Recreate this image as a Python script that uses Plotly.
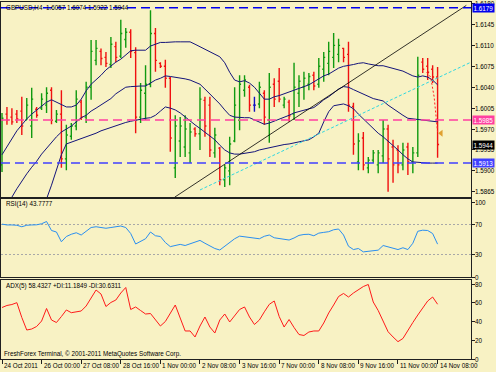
import plotly.graph_objects as go

W, H = 496, 372

# ---------------- data ----------------
date_labels = ["24 Oct 2011", "26 Oct 00:00", "27 Oct 08:00", "28 Oct 16:00", "1 Nov 00:00",
               "2 Nov 08:00", "3 Nov 16:00", "7 Nov 00:00", "8 Nov 08:00", "9 Nov 16:00",
               "11 Nov 00:00", "14 Nov 08:00"]
label_bars = [0, 8, 16, 24, 32, 40, 48, 56, 64, 72, 80, 88]

opens = [1.5910, 1.5995, 1.5990, 1.5995, 1.6000, 1.5985, 1.5975, 1.6003, 1.6005, 1.6010,
         1.6035, 1.5983, 1.5995, 1.5920, 1.5958, 1.5975, 1.6015, 1.5990, 1.6040, 1.6085,
         1.6100, 1.6090, 1.6078, 1.6108, 1.6092, 1.6120, 1.6132, 1.6098, 1.5990, 1.6030,
         1.6045, 1.6130, 1.6080, 1.6075, 1.6055, 1.5905, 1.5950, 1.5940, 1.5930, 1.5970,
         1.5962, 1.6018, 1.6010, 1.5930, 1.5938, 1.5885, 1.5900, 1.5950, 1.5985, 1.6035,
         1.6040, 1.6010, 1.6012, 1.6030, 1.5985, 1.6045, 1.6050, 1.6010, 1.6015, 1.5995,
         1.6030, 1.6040, 1.6045, 1.6060, 1.6045, 1.6070, 1.6080, 1.6090, 1.6095, 1.6105,
         1.6095, 1.6008, 1.5915, 1.5955, 1.5905, 1.5918, 1.5910, 1.5925, 1.5970, 1.5940,
         1.5935, 1.5910, 1.5940, 1.5915, 1.5930, 1.6082, 1.6075, 1.6070, 1.6057]
highs = [1.5997, 1.6007, 1.6005, 1.6002, 1.6024, 1.6022, 1.6039, 1.6007, 1.6030, 1.6040,
         1.6040, 1.6002, 1.6035, 1.5977, 1.5980, 1.6035, 1.6019, 1.6049, 1.6119, 1.6119,
         1.6105, 1.6099, 1.6124, 1.6116, 1.6153, 1.6139, 1.6137, 1.6107, 1.6047, 1.6077,
         1.6169, 1.6139, 1.6082, 1.6086, 1.6057, 1.5993, 1.5990, 1.5993, 1.5980, 1.5973,
         1.6040, 1.6024, 1.6024, 1.5972, 1.5940, 1.5910, 1.5957, 1.6040, 1.6060, 1.6060,
         1.6044, 1.6024, 1.6049, 1.6035, 1.6064, 1.6055, 1.6072, 1.6024, 1.6019, 1.6081,
         1.6060, 1.6066, 1.6064, 1.6066, 1.6089, 1.6099, 1.6116, 1.6131, 1.6121, 1.6106,
         1.6116, 1.6014, 1.5963, 1.5965, 1.5923, 1.5935, 1.5935, 1.5985, 1.5977, 1.5952,
         1.5943, 1.5947, 1.5947, 1.5940, 1.6091, 1.6089, 1.6089, 1.6077, 1.6074]
lows = [1.5898, 1.5977, 1.5977, 1.5980, 1.5960, 1.5985, 1.5955, 1.5989, 1.6002, 1.5997,
        1.5978, 1.5980, 1.5905, 1.5901, 1.5952, 1.5968, 1.5985, 1.5980, 1.6019, 1.6077,
        1.6077, 1.6074, 1.6072, 1.6082, 1.6089, 1.6106, 1.6089, 1.5963, 1.5980, 1.5985,
        1.6040, 1.6066, 1.6072, 1.6039, 1.5932, 1.5888, 1.5923, 1.5923, 1.5913, 1.5957,
        1.5935, 1.5957, 1.5923, 1.5922, 1.5876, 1.5873, 1.5876, 1.5948, 1.5968, 1.6024,
        1.5999, 1.5999, 1.6005, 1.5977, 1.5947, 1.6007, 1.6015, 1.6005, 1.5982, 1.5985,
        1.6007, 1.6019, 1.6035, 1.6035, 1.6039, 1.6049, 1.6060, 1.6072, 1.6082, 1.6082,
        1.5999, 1.5927, 1.5901, 1.5901, 1.5896, 1.5913, 1.5896, 1.5913, 1.5865, 1.5880,
        1.5896, 1.5901, 1.5893, 1.5896, 1.5923, 1.6064, 1.6052, 1.6047, 1.5922]
closes = [1.5988, 1.5985, 1.5982, 1.5987, 1.5975, 1.6010, 1.6020, 1.5993, 1.6020, 1.6030,
          1.5985, 1.5995, 1.5920, 1.5960, 1.5975, 1.6020, 1.5990, 1.6040, 1.6100, 1.6105,
          1.6088, 1.6080, 1.6112, 1.6090, 1.6130, 1.6132, 1.6100, 1.5990, 1.6035, 1.6045,
          1.6130, 1.6085, 1.6075, 1.6055, 1.5955, 1.5975, 1.5975, 1.5970, 1.5965, 1.5962,
          1.6020, 1.5975, 1.5935, 1.5960, 1.5885, 1.5905, 1.5945, 1.6010, 1.6045, 1.6052,
          1.6010, 1.6010, 1.6040, 1.5990, 1.6040, 1.6020, 1.6020, 1.6020, 1.5992, 1.6040,
          1.6050, 1.6055, 1.6058, 1.6042, 1.6075, 1.6090, 1.6100, 1.6110, 1.6110, 1.6090,
          1.6010, 1.5945, 1.5950, 1.5910, 1.5918, 1.5930, 1.5930, 1.5970, 1.5920, 1.5910,
          1.5910, 1.5935, 1.5915, 1.5930, 1.6060, 1.6070, 1.6065, 1.6057, 1.5944]

band_upper = [1.5927, 1.5940, 1.5953, 1.5967, 1.5977, 1.5987, 1.5995, 1.6002, 1.6009, 1.6015,
              1.6019, 1.6015, 1.6010, 1.6007, 1.6007, 1.6010, 1.6020, 1.6034, 1.6045, 1.6052,
              1.6060, 1.6069, 1.6076, 1.6082, 1.6087, 1.6094, 1.6101, 1.6102, 1.6102, 1.6102,
              1.6109, 1.6112, 1.6115, 1.6115, 1.6116, 1.6116, 1.6116, 1.6116, 1.6116, 1.6112,
              1.6108, 1.6104, 1.6099, 1.6095, 1.6091, 1.6081, 1.6065, 1.6052, 1.6049, 1.6051,
              1.6047, 1.6040, 1.6030, 1.6020, 1.6020, 1.6024, 1.6026, 1.6029, 1.6031, 1.6035,
              1.6037, 1.6040, 1.6044, 1.6049, 1.6054, 1.6059, 1.6062, 1.6067, 1.6072, 1.6075,
              1.6076, 1.6078, 1.6080, 1.6081, 1.6079, 1.6077, 1.6076, 1.6076, 1.6074, 1.6072,
              1.6070, 1.6067, 1.6063, 1.6059, 1.6057, 1.6059, 1.6057, 1.6052, 1.6044]
band_middle = [1.5831, 1.5843, 1.5856, 1.5870, 1.5883, 1.5895, 1.5906, 1.5916, 1.5928, 1.5938,
               1.5948, 1.5957, 1.5965, 1.5970, 1.5975, 1.5982, 1.5989, 1.5993, 1.6000, 1.6005,
               1.6010, 1.6015, 1.6021, 1.6029, 1.6035, 1.6040, 1.6041, 1.6042, 1.6042, 1.6042,
               1.6047, 1.6052, 1.6055, 1.6059, 1.6058, 1.6057, 1.6055, 1.6054, 1.6052, 1.6049,
               1.6045, 1.6037, 1.6029, 1.6020, 1.6012, 1.6002, 1.5993, 1.5990, 1.5989, 1.5989,
               1.5989, 1.5985, 1.5982, 1.5978, 1.5980, 1.5983, 1.5987, 1.5990, 1.5993, 1.5997,
               1.5999, 1.6001, 1.6004, 1.6006, 1.6012, 1.6019, 1.6024, 1.6030, 1.6037, 1.6041,
               1.6040, 1.6036, 1.6032, 1.6028, 1.6024, 1.6021, 1.6019, 1.6017, 1.6010, 1.6004,
               1.5999, 1.5993, 1.5988, 1.5987, 1.5985, 1.5984, 1.5983, 1.5983, 1.5982]
band_lower = [1.5701, 1.5726, 1.5747, 1.5768, 1.5784, 1.5801, 1.5818, 1.5831, 1.5843, 1.5853,
              1.5876, 1.5901, 1.5927, 1.5945, 1.5948, 1.5951, 1.5953, 1.5957, 1.5960, 1.5963,
              1.5967, 1.5970, 1.5973, 1.5976, 1.5978, 1.5981, 1.5983, 1.5985, 1.5987, 1.5988,
              1.5989, 1.5993, 1.6000, 1.6007, 1.6005, 1.6002, 1.5997, 1.5990, 1.5983, 1.5977,
              1.5971, 1.5965, 1.5958, 1.5952, 1.5943, 1.5935, 1.5930, 1.5928, 1.5928, 1.5929,
              1.5930, 1.5932, 1.5935, 1.5937, 1.5939, 1.5941, 1.5942, 1.5944, 1.5945, 1.5947,
              1.5948, 1.5950, 1.5952, 1.5957, 1.5963, 1.5982, 1.5999, 1.6009, 1.6010, 1.6012,
              1.6009, 1.6004, 1.5995, 1.5987, 1.5978, 1.5971, 1.5963, 1.5957, 1.5950, 1.5942,
              1.5935, 1.5927, 1.5920, 1.5915, 1.5914, 1.5913, 1.5913, 1.5913, 1.5913]

rsi_values = [70.5, 69.4, 69.4, 69, 67, 69, 69.4, 69.6, 71, 74,
              62, 60, 47, 54, 57, 59, 56, 60.5, 66, 67,
              66, 65, 66, 67, 68, 66, 58, 44, 47.5, 51,
              60, 55, 54, 46, 40.5, 42, 43.5, 42, 44.5, 47,
              48.8, 45, 41.5, 38, 36, 41, 46.5, 51, 54.5, 53.5,
              52.5, 52, 51, 54.3, 56, 52.3, 51, 50, 49.3, 52,
              55.5, 56.7, 57, 55, 58.5, 59.5, 60.4, 63, 64, 56,
              41, 36.6, 38, 33.5, 34, 35.3, 35.8, 42, 40, 38,
              36.6, 39, 36.6, 45, 61, 62.4, 62, 58, 43.8]
adx_values = [54.9, 57.1, 58.1, 60.1, 44.3, 30.9, 32, 34.7, 40.5, 53.9,
              41.6, 38.9, 45.3, 52.3, 49.4, 50.5, 51.2, 56.5, 65.1, 73.6,
              69.3, 56, 60.3, 62.9, 70.4, 76.3, 52.8, 55.5, 51.7, 48,
              48.5, 41.6, 35.2, 40, 49.1, 57.6, 43.7, 29.9, 29.9, 23.5,
              35.2, 44.8, 34.1, 27.7, 41.6, 48, 39.5, 45.9, 52.8, 55.5,
              44.8, 36.8, 41.6, 50.3, 58.3, 61.9, 45.3, 34.1, 42.1, 33.6,
              26.1, 25.1, 28.8, 29.9, 29.9, 38.4, 49.1, 57.6, 66.7, 69.9,
              66.1, 70.4, 74.1, 77.3, 79.5, 60.8, 51.7, 40.5, 29.1, 23.5,
              18.5, 21.9, 30.9, 38.9, 46.9, 54.9, 61.9, 66.1, 58.4]

price_ticks = [1.6180, 1.6145, 1.6110, 1.6075, 1.6040, 1.6005, 1.5970, 1.5935, 1.5900, 1.5865]
rsi_ticks = [100, 70, 30, 0]
rsi_levels = [70, 30]
adx_ticks = [80, 60, 40, 20, 0]

# horizontal lines: where they sit on the scale, and the price shown in their tag
hline_prices = [1.6173, 1.5985, 1.5913]
hline_tags = ["1.6179", "1.5985", "1.5913"]
hline_colors = ["#0000ee", "#ff3fa0", "#4040ff"]
last_close = 1.5944

black_trend_x = [34.9, 93.8]
black_trend_y = [1.5856, 1.6177]
cyan_trend_x = [40.0, 94.5]
cyan_trend_y = [1.5868, 1.6081]
red_path_x = [85.8, 86.6, 87.3, 88.0]
red_path_y = [1.6065, 1.6057, 1.6024, 1.5965]
arrow_x = [88.7]
arrow_y = [1.5963]

header_text = "GBPUSD,H4  1.6057 1.6074 1.5922 1.5944"
rsi_text = "RSI(14) 43.7777"
adx_text = "ADX(5) 58.4327 +DI:11.1849 -DI:30.6311"
copyright_text = "FreshForex Terminal, © 2001-2011 MetaQuotes Software Corp."

# ---------------- figure ----------------
BG = "#f8f2c4"
FRAME = "#202020"
FONT = "Liberation Sans"
FS = 6.3
n = len(closes)
bars = list(range(n))


def dom(top_px, bot_px):
    return [1 - bot_px / H, 1 - top_px / H]


fig = go.Figure()

groups = [
    (lambda i: closes[i] > opens[i], "#109a10"),
    (lambda i: closes[i] < opens[i], "#f01010"),
    (lambda i: closes[i] == opens[i], "#1010c0"),
]
for sel, col in groups:
    idx = [i for i in bars if sel(i)]
    if not idx:
        continue
    fig.add_trace(go.Ohlc(
        x=idx, open=[opens[i] for i in idx], high=[highs[i] for i in idx],
        low=[lows[i] for i in idx], close=[closes[i] for i in idx],
        increasing=dict(line=dict(color=col, width=1.4)),
        decreasing=dict(line=dict(color=col, width=1.4)),
        tickwidth=0.3, xaxis="x", yaxis="y", showlegend=False, hoverinfo="skip"))

for band in (band_upper, band_middle, band_lower):
    fig.add_trace(go.Scatter(x=bars, y=band, mode="lines",
                             line=dict(color="#14147a", width=1),
                             xaxis="x", yaxis="y", showlegend=False, hoverinfo="skip"))

fig.add_trace(go.Scatter(x=black_trend_x, y=black_trend_y, mode="lines",
                         line=dict(color="#000000", width=0.8),
                         xaxis="x", yaxis="y", showlegend=False, hoverinfo="skip"))
fig.add_trace(go.Scatter(x=cyan_trend_x, y=cyan_trend_y, mode="lines",
                         line=dict(color="#30d8e0", width=1, dash="3px,2px"),
                         xaxis="x", yaxis="y", showlegend=False, hoverinfo="skip"))
fig.add_trace(go.Scatter(x=red_path_x, y=red_path_y, mode="lines",
                         line=dict(color="#ff2020", width=1, dash="2px,2px"),
                         xaxis="x", yaxis="y", showlegend=False, hoverinfo="skip"))
fig.add_trace(go.Scatter(x=arrow_x, y=arrow_y, mode="markers",
                         marker=dict(symbol="triangle-left", size=6, color="#e0a030"),
                         xaxis="x", yaxis="y", showlegend=False, hoverinfo="skip"))

fig.add_trace(go.Scatter(x=bars, y=rsi_values, mode="lines",
                         line=dict(color="#2a8ff0", width=1),
                         xaxis="x2", yaxis="y2", showlegend=False, hoverinfo="skip"))
fig.add_trace(go.Scatter(x=bars, y=adx_values, mode="lines",
                         line=dict(color="#ff1a1a", width=1),
                         xaxis="x3", yaxis="y3", showlegend=False, hoverinfo="skip"))

xdom = [1 / W, 471 / W]
xrange = [-0.202, 94.75]
axis_common = dict(showgrid=False, zeroline=False, showline=True, mirror=True,
                   linecolor=FRAME, linewidth=1, automargin=False)

shapes = []
for p, c in zip(hline_prices, hline_colors):
    shapes.append(dict(type="line", xref="paper", x0=xdom[0], x1=xdom[1], yref="y", y0=p, y1=p,
                       line=dict(color=c, width=1.5, dash="9px,5px"), layer="above"))
for lv in rsi_levels:
    shapes.append(dict(type="line", xref="paper", x0=xdom[0], x1=xdom[1], yref="y2", y0=lv, y1=lv,
                       line=dict(color="#a8a8a8", width=1, dash="2px,2px"), layer="below"))

txt_font = dict(family=FONT, size=FS, color="#000")
annotations = []


def label(text, x, y, xref="paper", yref="paper", xanchor="left", **kw):
    annotations.append(dict(text=text, xref=xref, yref=yref, x=x, y=y, xanchor=xanchor,
                            yanchor="middle", showarrow=False, font=kw.pop("font", txt_font), **kw))


label(header_text, 4 / W, 1 - 7.5 / H)
label(rsi_text, 4 / W, 1 - 204 / H)
label(adx_text, 4 / W, 1 - 286 / H)
label(copyright_text, 2 / W, 1 - 354 / H)

# right-hand axis labels
for v in price_ticks:
    label(f"{v:.4f}", 473 / W, v, yref="y")
for v in rsi_ticks:
    label(str(v), 473 / W, v, yref="y2")
for v in adx_ticks:
    label(str(v), 473 / W, v, yref="y3")
# bottom date labels, starting at their tick
for b, t in zip(label_bars, date_labels):
    label(t, b, 1 - 365.5 / H, xref="x3")

box_prices = hline_prices + [last_close]
box_texts = hline_tags + [f"{last_close:.4f}"]
box_colors = hline_colors + ["#000000"]
for p, t, c in zip(box_prices, box_texts, box_colors):
    label(t, 471.5 / W, p, yref="y", bgcolor=c, borderpad=0.5,
          font=dict(family=FONT, size=FS, color="#ffffff"))

fig.update_layout(
    width=W, height=H, margin=dict(l=0, r=0, t=0, b=0, autoexpand=False),
    paper_bgcolor=BG, plot_bgcolor=BG, showlegend=False,
    font=txt_font,
    xaxis=dict(domain=xdom, range=xrange, anchor="y", showticklabels=False, ticks="",
               rangeslider=dict(visible=False), **axis_common),
    xaxis2=dict(domain=xdom, range=xrange, anchor="y2", matches="x", showticklabels=False,
                ticks="", rangeslider=dict(visible=False), **axis_common),
    xaxis3=dict(domain=xdom, range=xrange, anchor="y3", matches="x", tickmode="array",
                tickvals=label_bars, showticklabels=False, ticks="outside", ticklen=4,
                tickcolor=FRAME, rangeslider=dict(visible=False), **axis_common),
    yaxis=dict(domain=dom(2, 197), range=[1.58562, 1.61827], anchor="x", side="right",
               tickmode="array", tickvals=price_ticks, showticklabels=False,
               ticks="outside", ticklen=3, tickcolor=FRAME, **axis_common),
    yaxis2=dict(domain=dom(199, 277), range=[0, 104], anchor="x2", side="right",
                tickmode="array", tickvals=rsi_ticks, showticklabels=False,
                ticks="outside", ticklen=3, tickcolor=FRAME, **axis_common),
    yaxis3=dict(domain=dom(280, 359), range=[0, 84.27], anchor="x3", side="right",
                tickmode="array", tickvals=adx_ticks, showticklabels=False,
                ticks="outside", ticklen=3, tickcolor=FRAME, **axis_common),
    shapes=shapes, annotations=annotations,
)

fig.write_html("out.html", config={"displayModeBar": False, "staticPlot": True},
               post_script="document.body.style.margin='0';document.body.style.padding='0';"
                           "document.body.style.overflow='hidden';")
